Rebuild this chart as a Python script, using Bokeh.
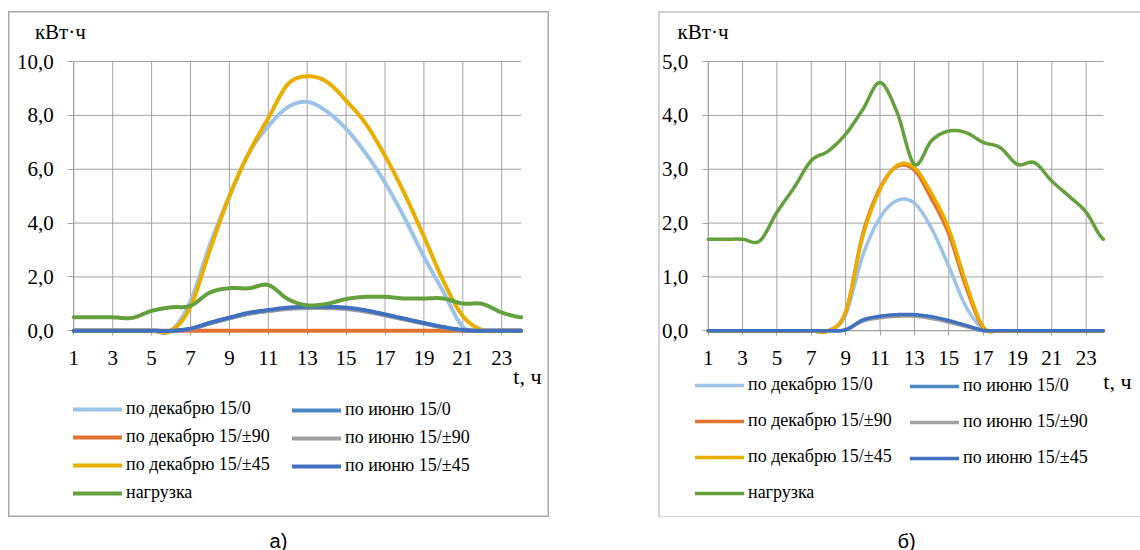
from bokeh.plotting import figure
from bokeh.models import Range1d, LinearAxis, FixedTicker, Legend, LegendItem, Spacer, Span
from bokeh.layouts import column, row
from bokeh.core.properties import value
from bokeh.embed import file_html
from bokeh.resources import INLINE

# ---------------- data ----------------
hours = [1, 2, 3, 4, 5, 6, 7, 8, 9, 10, 11, 12, 13, 14, 15, 16, 17, 18, 19, 20, 21, 22, 23, 24]
x_ticks = [1, 3, 5, 7, 9, 11, 13, 15, 17, 19, 21, 23]
x_labels = ["1", "3", "5", "7", "9", "11", "13", "15", "17", "19", "21", "23"]

series_names = ["по декабрю 15/0", "по июню 15/0", "по декабрю 15/±90",
                "по июню 15/±90", "по декабрю 15/±45", "по июню 15/±45", "нагрузка"]

# panel a)
a_y_ticks = [0, 2, 4, 6, 8, 10]
a_y_labels = ["0,0", "2,0", "4,0", "6,0", "8,0", "10,0"]
a_dec_0 = [0, 0, 0, 0, 0, 0, 1.1, 3.2, 5.0, 6.6, 7.6, 8.3, 8.5, 8.15, 7.5, 6.6, 5.5, 4.2, 2.75, 1.45, 0.15, 0, 0, 0]
a_jun_0 = [0, 0, 0, 0, 0, 0, 0.07, 0.28, 0.47, 0.64, 0.74, 0.83, 0.86, 0.86, 0.83, 0.73, 0.59, 0.43, 0.28, 0.13, 0.02, 0, 0, 0]
a_dec_90 = [0, 0, 0, 0, 0, 0, 0, 0, 0, 0, 0, 0, 0, 0, 0, 0, 0, 0, 0, 0, 0, 0, 0, 0]
a_jun_90 = [0, 0, 0, 0, 0, 0, 0.07, 0.27, 0.46, 0.63, 0.73, 0.81, 0.84, 0.84, 0.81, 0.71, 0.57, 0.42, 0.27, 0.12, 0.02, 0, 0, 0]
a_dec_45 = [0, 0, 0, 0, 0, 0, 0.9, 3.0, 5.0, 6.6, 7.9, 9.15, 9.45, 9.25, 8.55, 7.7, 6.5, 5.1, 3.5, 1.85, 0.55, 0.03, 0, 0]
a_jun_45 = [0, 0, 0, 0, 0, 0, 0.08, 0.3, 0.49, 0.67, 0.77, 0.86, 0.89, 0.89, 0.86, 0.76, 0.61, 0.45, 0.29, 0.14, 0.03, 0, 0, 0]
a_load = [0.5, 0.5, 0.5, 0.48, 0.74, 0.87, 0.93, 1.42, 1.58, 1.58, 1.7, 1.18, 0.95, 1.0, 1.18, 1.26, 1.26, 1.2, 1.2, 1.2, 1.01, 1.0, 0.68, 0.5]

# panel б)
b_y_ticks = [0, 1, 2, 3, 4, 5]
b_y_labels = ["0,0", "1,0", "2,0", "3,0", "4,0", "5,0"]
b_dec_0 = [0, 0, 0, 0, 0, 0, 0, 0, 0.3, 1.4, 2.1, 2.42, 2.37, 1.9, 1.2, 0.45, 0.04, 0, 0, 0, 0, 0, 0, 0]
b_jun_0 = [0, 0, 0, 0, 0, 0, 0, 0, 0.02, 0.19, 0.26, 0.29, 0.29, 0.25, 0.18, 0.09, 0.01, 0, 0, 0, 0, 0, 0, 0]
b_dec_90 = [0, 0, 0, 0, 0, 0, 0, 0, 0.35, 1.8, 2.65, 3.05, 2.98, 2.45, 1.8, 0.82, 0.06, 0, 0, 0, 0, 0, 0, 0]
b_jun_90 = [0, 0, 0, 0, 0, 0, 0, 0, 0.02, 0.18, 0.24, 0.27, 0.27, 0.23, 0.16, 0.08, 0, 0, 0, 0, 0, 0, 0, 0]
b_dec_45 = [0, 0, 0, 0, 0, 0, 0, 0, 0.35, 1.75, 2.62, 3.07, 3.03, 2.55, 1.9, 0.9, 0.08, 0, 0, 0, 0, 0, 0, 0]
b_jun_45 = [0, 0, 0, 0, 0, 0, 0, 0, 0.02, 0.2, 0.27, 0.3, 0.3, 0.26, 0.19, 0.1, 0.01, 0, 0, 0, 0, 0, 0, 0]
b_load = [1.7, 1.7, 1.7, 1.67, 2.2, 2.66, 3.16, 3.34, 3.65, 4.11, 4.61, 4.05, 3.09, 3.53, 3.71, 3.68, 3.5, 3.4, 3.09, 3.12, 2.78, 2.5, 2.2, 1.7]

unit_label = "кВт·ч"
t_label = "t, ч"
captions = ["а)", "б)"]

# ---------------- styles ----------------
COLORS = ["#9DC3E6", "#4D88C4", "#E2722F", "#A0A0A0", "#EAAE00", "#4170BF", "#64A03E"]
GRID = "#A3A3A3"
BORDER = "#A8A8A8"
SERIF = "'Liberation Serif', 'Times New Roman', 'DejaVu Serif', serif"


def smooth(xs, ys, n=12):
    """Excel-style smoothed line (Bezier/Catmull-Rom) through the read points."""
    ox, oy = [], []
    m = len(xs)
    for i in range(m - 1):
        y0 = ys[i - 1] if i > 0 else ys[i]
        y3 = ys[i + 2] if i + 2 < m else ys[i + 1]
        c1 = ys[i] + (ys[i + 1] - y0) / 6.0
        c2 = ys[i + 1] - (y3 - ys[i]) / 6.0
        for k in range(n):
            t = k / n
            u = 1 - t
            ox.append(xs[i] + (xs[i + 1] - xs[i]) * t)
            oy.append(u ** 3 * ys[i] + 3 * u * u * t * c1 + 3 * u * t * t * c2 + t ** 3 * ys[i + 1])
    ox.append(xs[-1])
    oy.append(ys[-1])
    return ox, oy


def make_panel(width, height, x0px, pph, y0px, ppu, y_ticks, y_labels, data, lw,
               leg_x, leg_first_center, leg_pitch, unit_xy, t_xy, right_border):
    xr = Range1d(hours[0] - x0px / pph, hours[0] + (width - x0px) / pph)
    yr = Range1d(-(height - y0px) / ppu, y0px / ppu)
    p = figure(width=width, height=height, x_range=xr, y_range=yr,
               x_axis_type=None, y_axis_type=None, toolbar_location=None,
               output_backend="svg", min_border=0, tools="")
    p.background_fill_color = "white"
    p.border_fill_color = "white"
    if right_border:
        p.outline_line_color = BORDER
        p.outline_line_width = 2
    else:
        p.outline_line_color = None
        for loc, dim in [(xr.start, "height"), (yr.start, "width"), (yr.end, "width")]:
            p.add_layout(Span(location=loc, dimension=dim, line_color=BORDER, line_width=2))
    ymax = y_ticks[-1]

    # grid lines (from the tick lists)
    p.segment(x0=x_ticks, y0=[y_ticks[0]] * len(x_ticks), x1=x_ticks, y1=[ymax] * len(x_ticks),
              line_color=GRID, line_width=1)
    p.segment(x0=[hours[0]] * len(y_ticks), y0=y_ticks, x1=[hours[-1]] * len(y_ticks), y1=y_ticks,
              line_color=GRID, line_width=1)

    xa = LinearAxis(fixed_location=0, bounds=(hours[0], hours[-1]),
                    ticker=FixedTicker(ticks=x_ticks),
                    major_label_overrides={t: l for t, l in zip(x_ticks, x_labels)},
                    axis_line_color=GRID, major_tick_line_color=GRID, minor_tick_line_color=None,
                    major_tick_out=5, major_tick_in=0,
                    major_label_text_font=SERIF, major_label_text_font_size="21px",
                    major_label_text_color="black", major_label_standoff=15, level="underlay")
    p.add_layout(xa, "below")
    ya = LinearAxis(fixed_location=hours[0], bounds=(0, ymax),
                    ticker=FixedTicker(ticks=y_ticks),
                    major_label_overrides={t: l for t, l in zip(y_ticks, y_labels)},
                    axis_line_color=GRID, major_tick_line_color=GRID, minor_tick_line_color=None,
                    major_tick_out=6, major_tick_in=0,
                    major_label_text_font=SERIF, major_label_text_font_size="21px",
                    major_label_text_color="black", major_label_standoff=14, level="underlay")
    p.add_layout(ya, "left")

    renderers = []
    for ys, c in zip(data, COLORS):
        sx, sy = smooth(hours, ys)
        r = p.line(sx, sy, line_color=c, line_width=lw, line_cap="round", line_join="round")
        renderers.append(r)

    # legends: Excel row-major 2 columns -> two vertical legends
    col1 = [0, 2, 4, 6]
    col2 = [1, 3, 5]
    item_h = 20
    spacing = int(leg_pitch - item_h)
    for cols, lx in zip([col1, col2], leg_x):
        items = [LegendItem(label=series_names[i], renderers=[renderers[i]]) for i in cols]
        n = len(cols)
        top_from_top = leg_first_center - item_h / 2.0
        bottom_from_top = top_from_top + n * item_h + (n - 1) * spacing
        lg = Legend(items=items, location=(lx, height - bottom_from_top), orientation="vertical",
                    spacing=spacing, padding=0, margin=0,
                    glyph_width=49, glyph_height=item_h, label_height=item_h, label_standoff=4,
                    label_text_font=SERIF, label_text_font_size="18px", label_text_color="black",
                    border_line_color=None, background_fill_alpha=0)
        p.add_layout(lg)

    p.text(x=[unit_xy[0]], y=[unit_xy[1]], text=[unit_label], text_font=value(SERIF),
           text_font_size=value("21px"), text_color="black", text_align="left", text_baseline="middle")
    p.text(x=[t_xy[0]], y=[t_xy[1]], text=[t_label], text_font=value(SERIF),
           text_font_size=value("22px"), text_color="black", text_align="left", text_baseline="middle")
    return p


# the page is laid out from the window's top-left corner
LEFT_PAD, TOP_PAD = 8, 11
PANEL_H = 506
pa = make_panel(541, PANEL_H, 65.3, 19.45, 50 + 269.3, 26.93, a_y_ticks, a_y_labels,
                [a_dec_0, a_jun_0, a_dec_90, a_jun_90, a_dec_45, a_jun_45, a_load], 4,
                leg_x=(65, 284), leg_first_center=401, leg_pitch=27,
                unit_xy=(-1.0, 11.1), t_xy=(23.6, -1.7), right_border=True)
pb = make_panel(482, PANEL_H, 49.7, 17.18, 50 + 269.3, 53.86, b_y_ticks, b_y_labels,
                [b_dec_0, b_jun_0, b_dec_90, b_jun_90, b_dec_45, b_jun_45, b_load], 3.5,
                leg_x=(37, 252), leg_first_center=377, leg_pitch=35,
                unit_xy=(-0.787, 5.55), t_xy=(24.0, -0.95), right_border=False)

# captions
CAP_H = 33
pc = figure(width=1132, height=CAP_H, x_range=Range1d(0, 1132), y_range=Range1d(0, CAP_H),
            x_axis_type=None, y_axis_type=None, toolbar_location=None,
            output_backend="svg", min_border=0, tools="")
pc.outline_line_color = None
pc.text(x=[270, 898], y=[10, 10], text=captions,
        text_font=value("'Liberation Sans Narrow', 'Arial Narrow', 'Liberation Sans'"),
        text_font_size=value("20px"), text_color="black", text_align="center", text_baseline="middle")

layout = column(Spacer(height=TOP_PAD),
                row(Spacer(width=LEFT_PAD), pa, Spacer(width=109), pb),
                row(Spacer(width=LEFT_PAD), pc))
open("out.html", "w").write(file_html(layout, INLINE))
